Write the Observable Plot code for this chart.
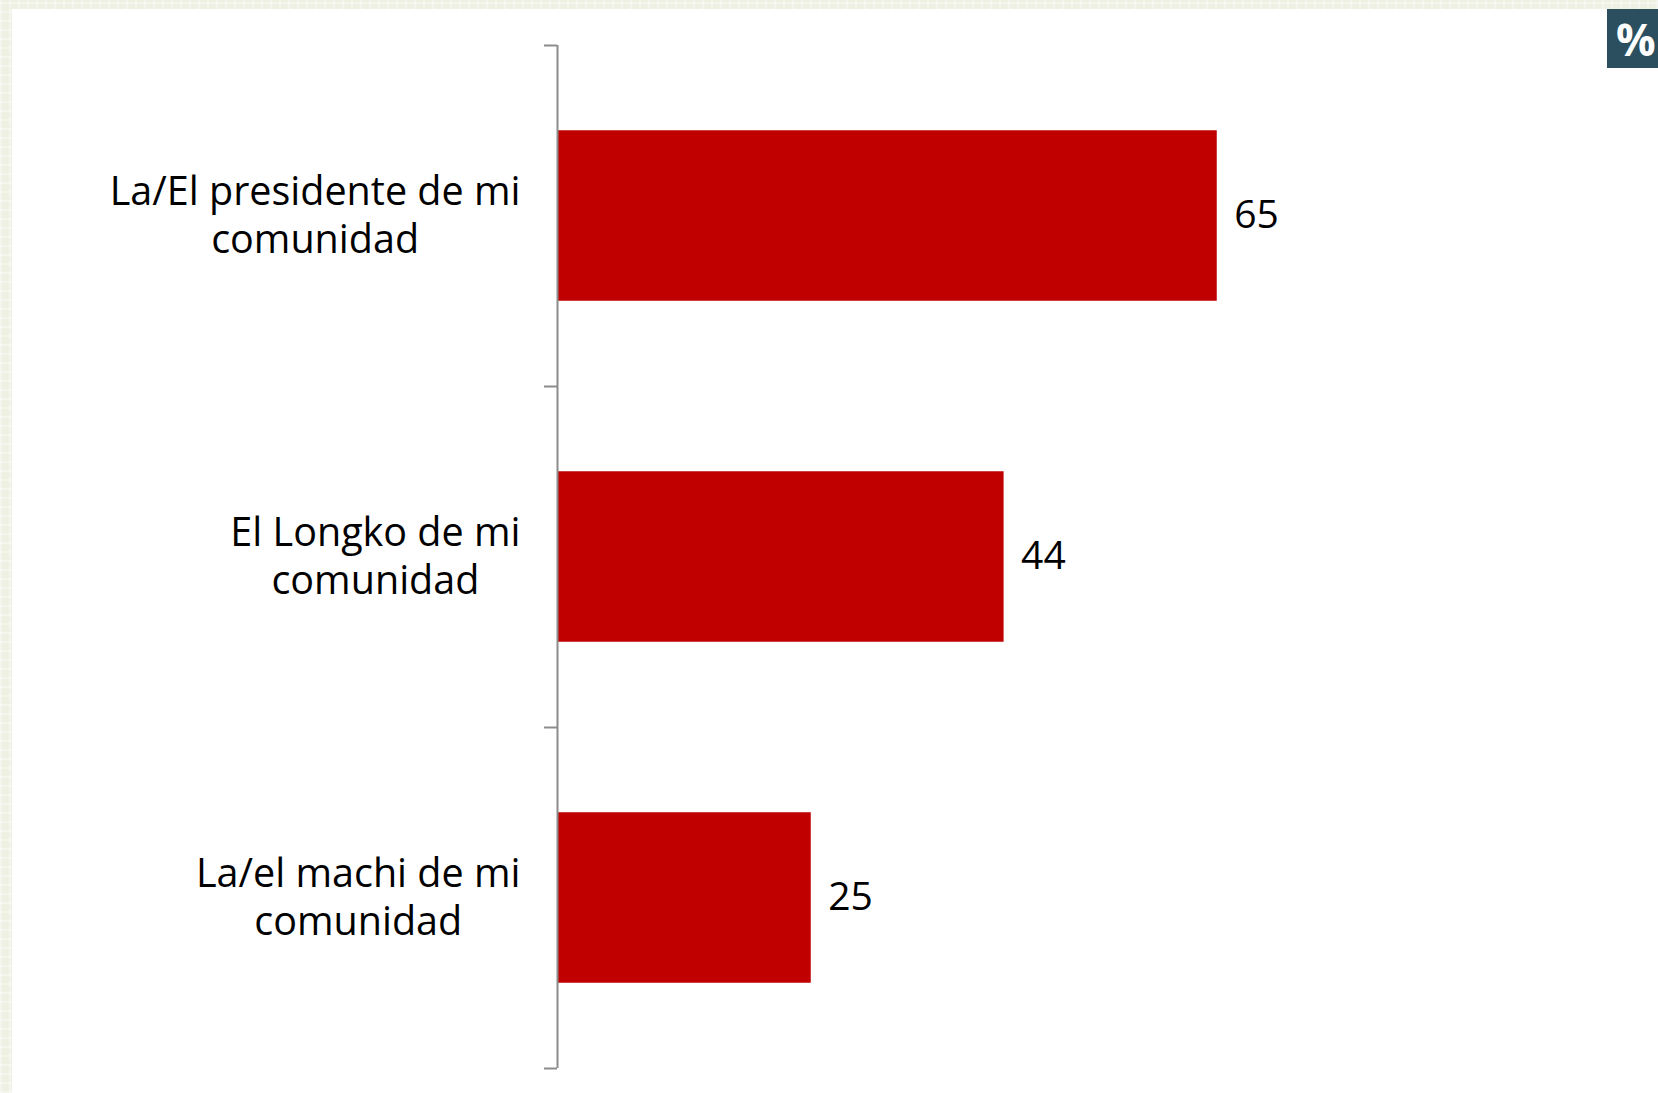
<!DOCTYPE html>
<html>
<head>
<meta charset="utf-8">
<script src="https://cdn.jsdelivr.net/npm/d3@7"></script>
<script src="https://cdn.jsdelivr.net/npm/@observablehq/plot@0.6"></script>
<style>
  html, body { margin: 0; padding: 0; }
  body {
    width: 1658px; height: 1093px; overflow: hidden; position: relative;
    background-color: #eef0e2;
    background-image:
      repeating-linear-gradient(0deg, rgba(255,255,255,0.35) 0 2px, transparent 2px 9px),
      repeating-linear-gradient(90deg, rgba(255,255,255,0.35) 0 2px, transparent 2px 9px);
  }
  #panel { position: absolute; left: 12px; top: 9px; right: 0; bottom: 0; background: #ffffff; }
  #chart { position: absolute; left: 0; top: 0; }
  #pct {
    position: absolute; left: 1607px; top: 9px; width: 51px; height: 59px;
    background: #2b4f5e; color: #ffffff; font: bold 44px "Open Sans", sans-serif;
    display: flex; align-items: center; justify-content: flex-start; padding-left: 9px; box-sizing: border-box;
    overflow: hidden; white-space: nowrap;
  }
</style>
</head>
<body>
<div id="panel"></div>
<div id="chart"></div>
<div id="pct">%</div>
<script>
const categoriesLine1 = ["La/El presidente de mi", "El Longko de mi", "La/el machi de mi"];
const categoriesLine2 = ["comunidad", "comunidad", "comunidad"];
const values = [65, 44, 25];

const FONT = "Open Sans";
const labelSize = 39.5;
const valueSize = 39;
const labelGap = 37;

const ctx = document.createElement("canvas").getContext("2d");
ctx.font = `${labelSize}px "${FONT}"`;

const data = values.map((v, i) => ({
  i,
  value: v,
  label: categoriesLine1[i] + "\n" + categoriesLine2[i],
  w1: Math.max(ctx.measureText(categoriesLine1[i]).width, ctx.measureText(categoriesLine2[i]).width)
}));
const boundaries = d3.range(0, values.length + 1);

const chart = Plot.plot({
  width: 1658,
  height: 1093,
  marginLeft: 557,
  marginRight: 86,
  marginTop: 45,
  marginBottom: 25,
  style: { background: "transparent", fontFamily: FONT, color: "#000" },
  x: { domain: [0, 100], axis: null },
  y: { domain: [0, values.length], reverse: true, axis: null },
  marks: [
    Plot.rectX(data, { x1: () => 0, x2: "value", y1: d => d.i + 0.25, y2: d => d.i + 0.75, fill: "#c00000", insetLeft: 1 }),
    Plot.axisY({ ticks: boundaries, tickSize: 13, tickFormat: () => "", stroke: "#8c8c8c", strokeWidth: 2 }),
    Plot.ruleX([0], { y1: 0, y2: values.length, stroke: "#8c8c8c", strokeWidth: 2 }),
    ...data.map(d => Plot.text([d], {
      x: () => 0, y: d => d.i + 0.5, text: "label",
      textAnchor: "middle", lineAnchor: "middle", lineHeight: 1.215,
      dx: -labelGap - d.w1 / 2, dy: -2.5, fontSize: labelSize, fill: "#000"
    })),
    Plot.text(data, { x: "value", y: d => d.i + 0.5, text: d => String(d.value), textAnchor: "start", lineAnchor: "middle", dx: 17, fontSize: valueSize, fill: "#000" })
  ]
});

document.getElementById("chart").appendChild(chart);
</script>
</body>
</html>
